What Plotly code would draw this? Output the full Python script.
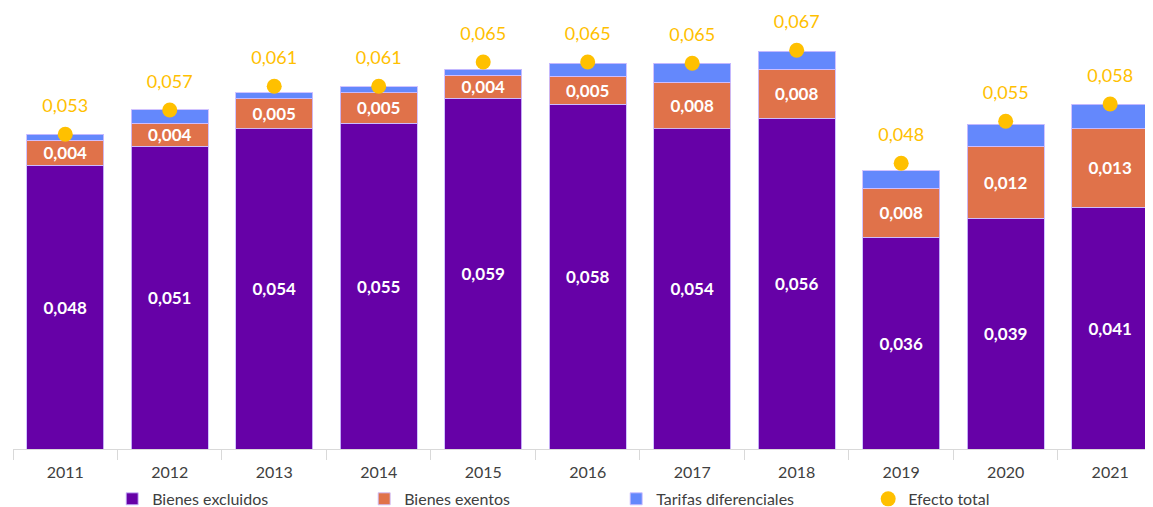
import plotly.graph_objects as go

years = ["2011", "2012", "2013", "2014", "2015", "2016", "2017", "2018", "2019", "2020", "2021"]
bienes_excluidos = [0.0480, 0.0512, 0.0541, 0.0551, 0.0593, 0.0583, 0.0541, 0.0559, 0.0358, 0.0390, 0.0409]
bienes_exentos = [0.0042, 0.0039, 0.0051, 0.0051, 0.0039, 0.0047, 0.0079, 0.0083, 0.0083, 0.0122, 0.0132]
tarifas_diferenciales = [0.0010, 0.0022, 0.0010, 0.0010, 0.0010, 0.0022, 0.0032, 0.0030, 0.0029, 0.0037, 0.0042]
efecto_total = [0.0532, 0.0573, 0.0613, 0.0613, 0.0654, 0.0654, 0.0652, 0.0674, 0.0483, 0.0554, 0.0583]


def fmt(v):
    return f"{v:.3f}".replace(".", ",")


FONT = "Lato"
PURPLE = "#6601A7"
ORANGE = "#E0724A"
BLUE = "#6488FC"
YELLOW = "#FFC000"
EDGE = "rgba(205,190,255,0.9)"

fig = go.Figure()
fig.add_trace(go.Bar(
    x=years, y=bienes_excluidos, name="Bienes excluidos",
    marker=dict(color=PURPLE, line=dict(color=EDGE, width=1)),
    text=[fmt(v) for v in bienes_excluidos], textposition="inside",
    insidetextanchor="middle", textangle=0,
    textfont=dict(color="white", size=17, family=FONT, weight="bold"),
    hoverinfo="skip",
))
fig.add_trace(go.Bar(
    x=years, y=bienes_exentos, name="Bienes exentos",
    marker=dict(color=ORANGE, line=dict(color=EDGE, width=1)),
    text=[fmt(v) for v in bienes_exentos], textposition="inside",
    insidetextanchor="middle", textangle=0,
    textfont=dict(color="white", size=17, family=FONT, weight="bold"),
    hoverinfo="skip",
))
fig.add_trace(go.Bar(
    x=years, y=tarifas_diferenciales, name="Tarifas diferenciales",
    marker=dict(color=BLUE, line=dict(color=EDGE, width=1)),
    hoverinfo="skip",
))
# invisible carrier for the total labels, placed above each dot
fig.add_trace(go.Scatter(
    x=years, y=efecto_total, mode="markers+text", showlegend=False,
    marker=dict(color="rgba(0,0,0,0)", size=27),
    text=[fmt(v) for v in efecto_total], textposition="top center",
    textfont=dict(color=YELLOW, size=18, family=FONT),
    hoverinfo="skip", cliponaxis=False,
))
fig.add_trace(go.Scatter(
    x=years, y=efecto_total, name="Efecto total", mode="markers",
    marker=dict(color=YELLOW, size=15),
    hoverinfo="skip", cliponaxis=False,
))

# the page body adds an 8px offset, so the figure is sized to fit 1153x507
fig.update_layout(
    width=1145, height=499,
    margin=dict(l=5, r=0, t=2, b=58, autoexpand=False),
    barmode="stack", bargap=0.26,
    plot_bgcolor="white", paper_bgcolor="white",
    uniformtext=dict(minsize=17, mode="show"),
    font=dict(family=FONT, color="#404040"),
    legend=dict(
        orientation="h", traceorder="normal",
        x=0.087, xanchor="left", y=-0.075, yanchor="top",
        bgcolor="rgba(0,0,0,0)",
        font=dict(size=16, color="#404040", family=FONT),
        entrywidth=207, entrywidthmode="pixels",
        itemwidth=30, tracegroupgap=0,
    ),
    xaxis=dict(
        type="category", range=[-0.5, 10.41],
        showline=True, linecolor="#D9D9D9", linewidth=1,
        ticks="outside", tickson="boundaries", ticklen=10, tickcolor="#D9D9D9",
        ticklabelstandoff=9,
        tickfont=dict(size=16, color="#404040", family=FONT),
        showgrid=False,
    ),
    yaxis=dict(range=[0, 0.0742], visible=False, showgrid=False),
)

fig.write_html("out.html")
